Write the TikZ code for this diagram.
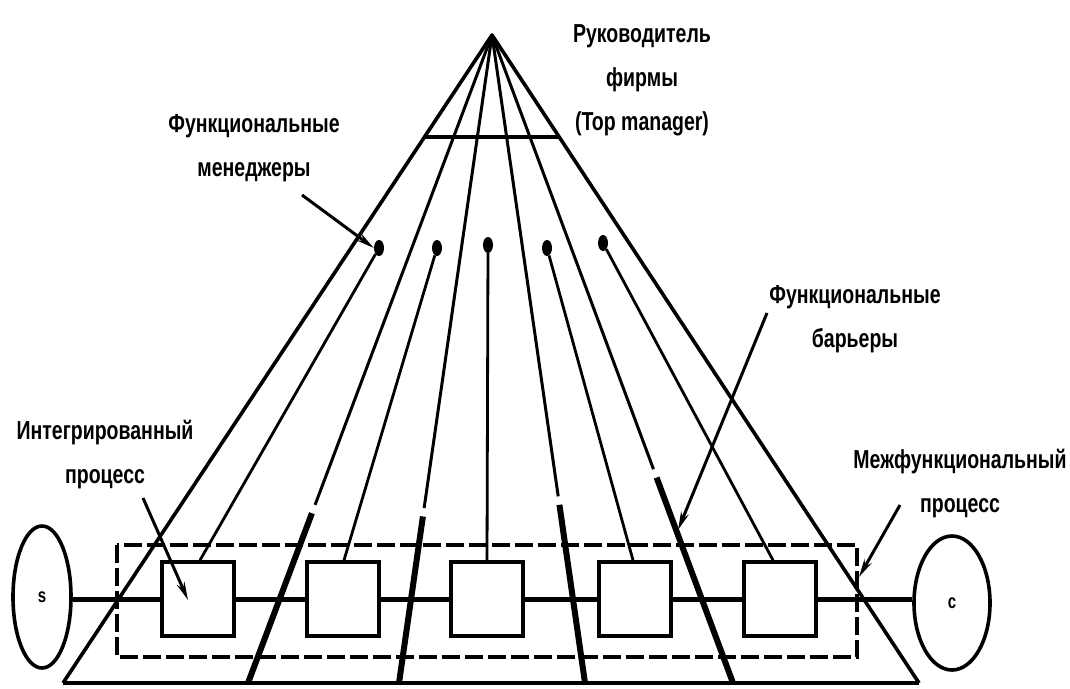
\documentclass[tikz,border=0pt]{standalone}
\usepackage{fontspec}
\setmainfont[FakeStretch=0.75]{Liberation Sans}
\usetikzlibrary{arrows.meta,shapes.geometric,calc}
\begin{document}
\begin{tikzpicture}[x=1pt,y=-1pt,
  edge/.style={line width=3.6pt,line join=round},
  ray/.style={line width=3pt},
  barrier/.style={line width=6pt},
  stem/.style={line width=2.8pt},
  procbox/.style={draw,line width=3.6pt,minimum width=72pt,minimum height=74pt,inner sep=0pt},
  mgrdot/.style={ellipse,fill=black,minimum width=10pt,minimum height=16pt,inner sep=0pt},
  endcirc/.style={ellipse,draw,line width=3.6pt,inner sep=0pt,font=\fontsize{20}{20}\selectfont\bfseries},
  lbl/.style={align=center,font=\fontsize{26}{44}\selectfont\bfseries,inner sep=0pt},
  arr/.style={line width=3pt,-{Stealth[length=18pt,width=8pt]}},
  flow/.style={line width=5pt},
  boundary/.style={line width=3.8pt,dash pattern=on 18pt off 5pt},
]
\useasboundingbox (0,0) rectangle (1070,688);

% pyramid
\coordinate (apex) at (492,35);
\coordinate (BL) at (63,683);
\coordinate (BR) at (919,683);
\coordinate (b1) at (248,683);
\coordinate (b2) at (399,683);
\coordinate (b3) at (585,683);
\coordinate (b4) at (733,683);
\draw[edge] (BL) -- (apex) -- (BR);
\draw[edge] (BL) -- (BR);
\draw[edge] ($(apex)!0.1574!(BL)$) -- ($(apex)!0.1574!(BR)$);

% rays with thick barrier parts
\draw[ray] (apex) -- ($(apex)!0.725!(b1)$);
\draw[barrier] ($(apex)!0.738!(b1)$) -- (b1);
\draw[ray] (apex) -- ($(apex)!0.730!(b2)$);
\draw[barrier] ($(apex)!0.743!(b2)$) -- (b2);
\draw[ray] (apex) -- ($(apex)!0.712!(b3)$);
\draw[barrier] ($(apex)!0.725!(b3)$) -- (b3);
\draw[ray] (apex) -- ($(apex)!0.670!(b4)$);
\draw[barrier] ($(apex)!0.683!(b4)$) -- (b4);

% functional managers
\node[mgrdot] (d1) at (379,248) {};
\node[mgrdot] (d2) at (437,248) {};
\node[mgrdot] (d3) at (488,245) {};
\node[mgrdot] (d4) at (547,248) {};
\node[mgrdot] (d5) at (603,243) {};

% dashed boundary
\draw[boundary] (117,545) rectangle (857,657);

% process boxes
\node[procbox,fill=white] (p1) at (198,599) {};
\node[procbox,fill=white] (p2) at (343,599) {};
\node[procbox,fill=white] (p3) at (487,599) {};
\node[procbox,fill=white] (p4) at (635,599) {};
\node[procbox,fill=white] (p5) at (780,599) {};

% stems
\draw[stem] (d1) -- ([xshift=2pt]p1.north);
\draw[stem] (d2) -- ([xshift=1pt]p2.north);
\draw[stem] (d3) -- (p3.north);
\draw[stem] (d4) -- ([xshift=-2pt]p4.north);
\draw[stem] (d5) -- ([xshift=-7pt]p5.north);

% end circles
\node[endcirc,minimum width=58pt,minimum height=142pt] (s) at (42,597) {s};
\node[endcirc,minimum width=76pt,minimum height=134pt] (c) at (952,603) {c};

% flow line
\draw[flow] (s.east |- p1.west) -- (p1.west);
\draw[flow] (p1.east) -- (p2.west);
\draw[flow] (p2.east) -- (p3.west);
\draw[flow] (p3.east) -- (p4.west);
\draw[flow] (p4.east) -- (p5.west);
\draw[flow] (p5.east) -- (p5.east -| c.west);

% labels
\node[lbl] (top) at (642,80) {Руководитель\\фирмы\\(Top manager)};
\node[lbl] (mgr) at (254,148) {Функциональные\\менеджеры};
\node[lbl] (bar) at (855,319) {Функциональные\\барьеры};
\node[lbl] (integ) at (105,455) {Интегрированный\\процесс};
\node[lbl] (cross) at (960,484) {Межфункциональный\\процесс};

% arrows
\coordinate (mgrA) at (302,195);
\coordinate (barA) at (767,313);
\coordinate (barT) at (678,530);
\coordinate (intA) at (143,498);
\coordinate (intT) at (188,600);
\coordinate (crA) at (900,505);
\coordinate (crT) at (859,577);
\draw[arr] (mgrA) -- (d1.west);
\draw[arr] (barA) -- (barT);
\draw[arr] (intA) -- (intT);
\draw[arr] (crA) -- (crT);
\end{tikzpicture}
\end{document}
